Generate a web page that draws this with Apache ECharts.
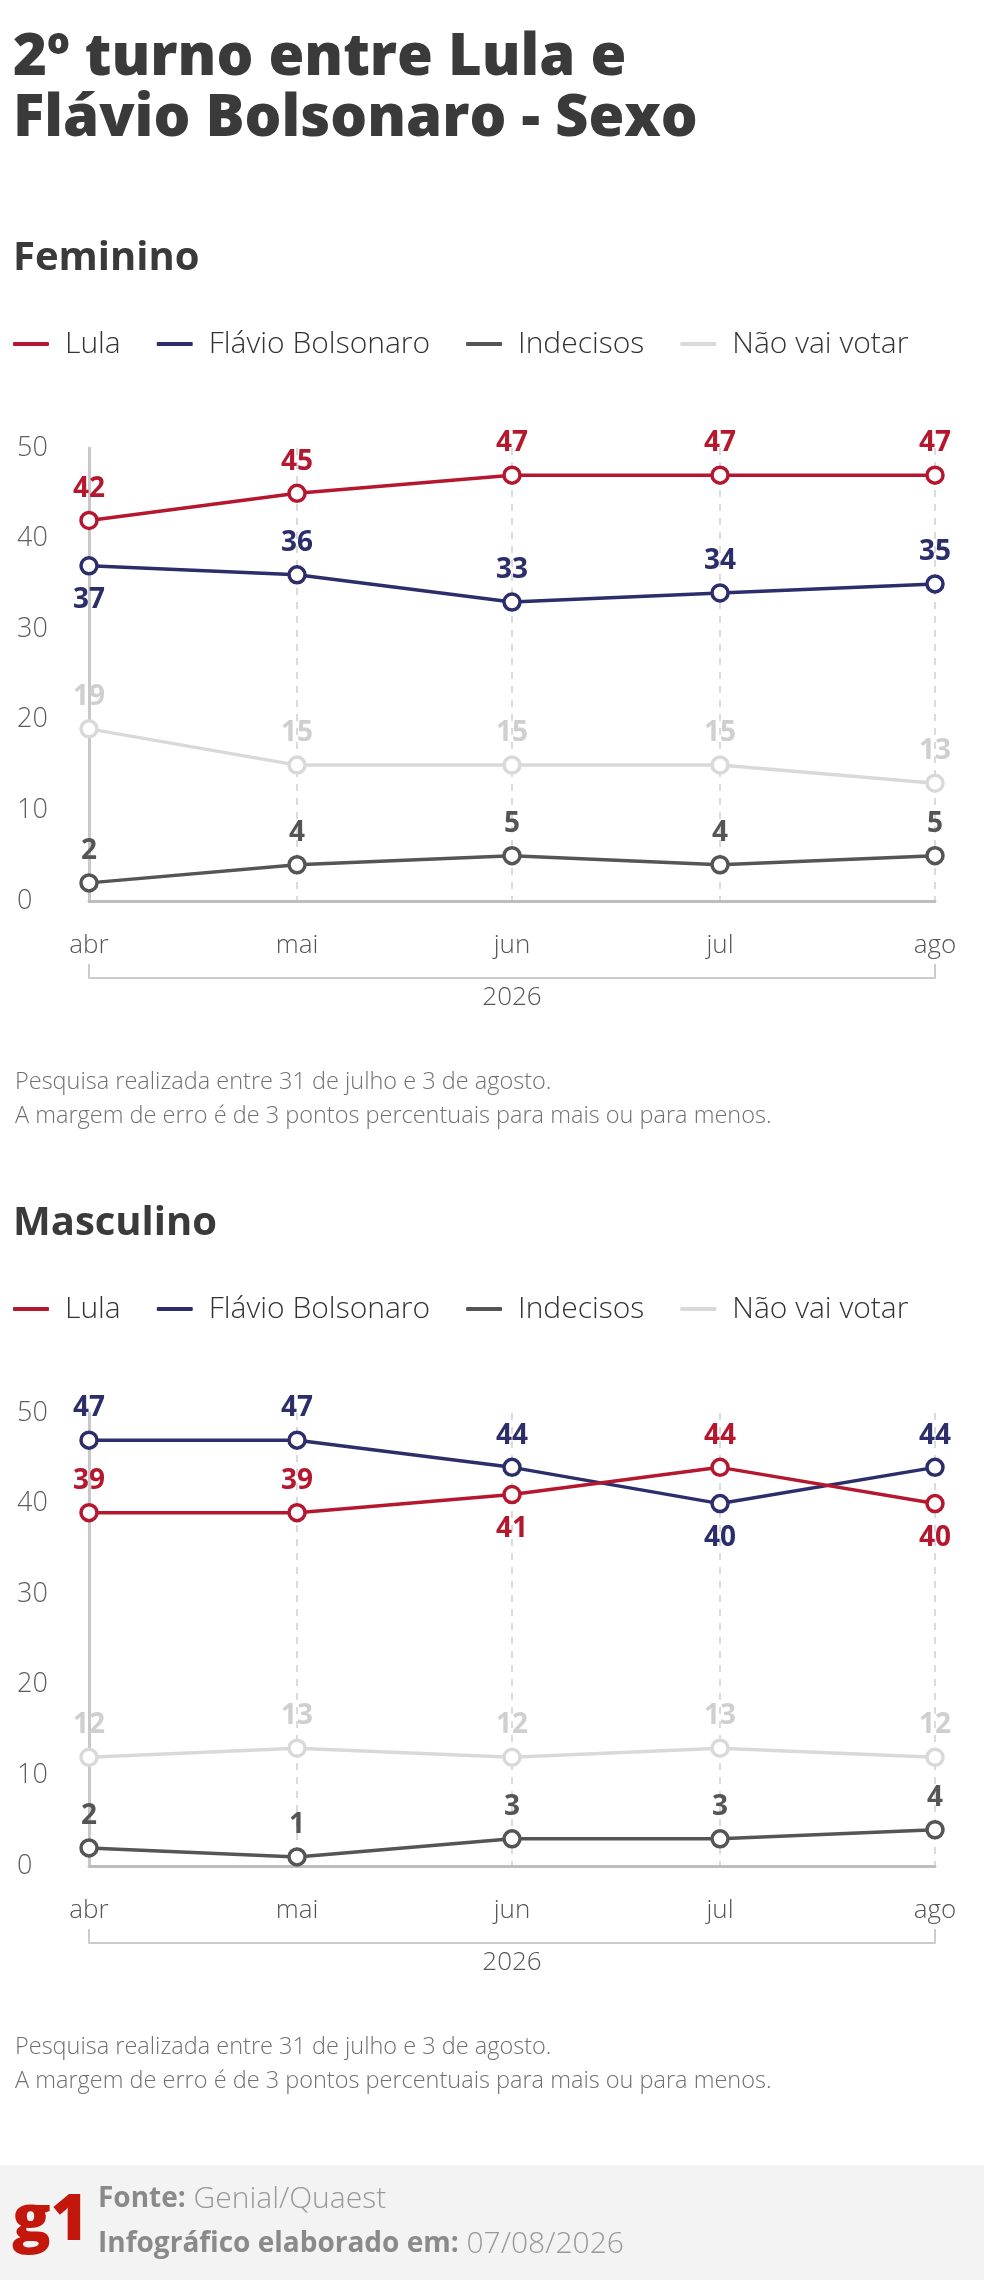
<!DOCTYPE html>
<html>
<head>
<meta charset="utf-8">
<script src="https://cdn.jsdelivr.net/npm/echarts@6/dist/echarts.min.js"></script>
<style>
html,body{margin:0;padding:0;background:#fff;}
#chart{width:984px;height:2280px;}
</style>
</head>
<body>
<div id="chart"></div>
<script>
// ---- data ----
const months = ['abr', 'mai', 'jun', 'jul', 'ago'];
const dates = ['2026-04-01', '2026-05-01', '2026-06-01', '2026-07-01', '2026-08-01'];
const seriesNames = ['Lula', 'Flávio Bolsonaro', 'Indecisos', 'Não vai votar'];

const femLula = [42, 45, 47, 47, 47];
const femFlavio = [37, 36, 33, 34, 35];
const femIndecisos = [2, 4, 5, 4, 5];
const femNaoVota = [19, 15, 15, 15, 13];

const mascLula = [39, 39, 41, 44, 40];
const mascFlavio = [47, 47, 44, 40, 44];
const mascIndecisos = [2, 1, 3, 3, 4];
const mascNaoVota = [12, 13, 12, 13, 12];

const yTicks = [0, 10, 20, 30, 40, 50];

// ---- styles ----
const FONT = '"Open Sans", "Noto Sans", sans-serif';
const colors = ['#b5172f', '#2c2d6b', '#555555', '#d9d9d9'];
const labelColors = ['#b5172f', '#2c2d6b', '#555555', '#cfcfcf'];

// day offsets from the first survey month (time positions)
const DAY = 86400000;
const t0 = Date.UTC.apply(null, dates[0].split('-').map((n, i) => i === 1 ? n - 1 : +n));
const xs = dates.map(d => {
  const p = d.split('-').map(Number);
  return Math.round((Date.UTC(p[0], p[1] - 1, p[2]) - t0) / DAY);
});
const monthOf = v => {
  const idx = xs.indexOf(Math.round(v));
  return idx >= 0 ? months[idx] : '';
};

const gridTops = [448, 1413];
const gridH = 453;

function makeSeries(gi, vals, pairVals, k) {
  return {
    name: seriesNames[k],
    type: 'line',
    xAxisIndex: gi * 2,
    yAxisIndex: gi,
    symbol: 'circle',
    symbolSize: 16,
    showAllSymbol: true,
    z: 10 - k,
    lineStyle: { color: colors[k], width: 3.5 },
    itemStyle: { color: '#fff', borderColor: colors[k], borderWidth: 3.5 },
    emphasis: { disabled: true },
    label: {
      show: true,
      position: 'top',
      distance: 8,
      color: labelColors[k],
      fontFamily: FONT,
      fontWeight: 'bold',
      fontSize: 28
    },
    data: vals.map((v, i) => {
      const item = { value: [xs[i], v] };
      if (pairVals && Math.abs(v - pairVals[i]) <= 5 && v < pairVals[i]) {
        item.label = { position: 'bottom', distance: 11 };
      }
      return item;
    })
  };
}

const grids = gridTops.map(t => ({ left: 89, right: 49, top: t, height: gridH, outerBoundsMode: 'none' }));

const xAxes = [];
const yAxes = [];
gridTops.forEach((t, gi) => {
  xAxes.push({
    gridIndex: gi,
    type: 'value',
    min: xs[0],
    max: xs[xs.length - 1],
    axisLine: { show: true, onZero: false, lineStyle: { color: '#bdbdbd', width: 3 } },
    axisTick: { show: false, customValues: xs },
    axisLabel: {
      customValues: xs,
      formatter: v => monthOf(v),
      margin: 32,
      fontSize: 26,
      fontFamily: FONT,
      fontWeight: 300,
      color: '#555',
      hideOverlap: false,
      showMinLabel: true,
      showMaxLabel: true
    },
    splitLine: { show: true, lineStyle: { type: [7, 7], color: '#cfcfcf', width: 1.5 } }
  });
  xAxes.push({
    gridIndex: gi,
    type: 'value',
    position: 'bottom',
    offset: 77,
    min: xs[0],
    max: xs[xs.length - 1],
    axisLine: { show: true, onZero: false, lineStyle: { color: '#cccccc', width: 2 } },
    axisTick: { show: true, inside: true, length: 14, customValues: [xs[0], xs[xs.length - 1]], lineStyle: { color: '#cccccc', width: 2 } },
    axisLabel: { show: false },
    splitLine: { show: false },
    name: '2026',
    nameLocation: 'middle',
    nameGap: 7,
    nameTextStyle: { fontSize: 26, fontFamily: FONT, fontWeight: 300, color: '#555' }
  });
  yAxes.push({
    gridIndex: gi,
    type: 'value',
    min: yTicks[0],
    max: yTicks[yTicks.length - 1],
    interval: 10,
    axisLine: { show: true, lineStyle: { color: '#c8c8c8', width: 3 } },
    axisTick: { show: false },
    splitLine: { show: false },
    axisLabel: { align: 'left', margin: 72, fontSize: 27, fontFamily: FONT, fontWeight: 300, color: '#5e5e5e' }
  });
});

const series = [
  makeSeries(0, femLula, femFlavio, 0),
  makeSeries(0, femFlavio, femLula, 1),
  makeSeries(0, femIndecisos, null, 2),
  makeSeries(0, femNaoVota, null, 3),
  makeSeries(1, mascLula, mascFlavio, 0),
  makeSeries(1, mascFlavio, mascLula, 1),
  makeSeries(1, mascIndecisos, null, 2),
  makeSeries(1, mascNaoVota, null, 3)
];

const legendCfg = top => ({
  top: top,
  left: 13,
  padding: 0,
  icon: 'roundRect',
  itemWidth: 36,
  itemHeight: 4,
  itemGap: 36,
  selectedMode: false,
  textStyle: { fontSize: 30, fontFamily: FONT, fontWeight: 300, color: '#333', padding: [0, 0, 0, 11] },
  data: seriesNames.map((n, k) => ({ name: n, itemStyle: { color: colors[k], borderWidth: 0 } }))
});

const noteText = 'Pesquisa realizada entre 31 de julho e 3 de agosto.\nA margem de erro é de 3 pontos percentuais para mais ou para menos.';
const noteStyle = { fontSize: 23.5, fontFamily: FONT, fontWeight: 300, color: '#707070', lineHeight: 34 };
const subTitleStyle = { fontSize: 40, fontFamily: FONT, fontWeight: 'bold', color: '#3a3a3a', lineHeight: 46 };

const footRich = {
  b: { fontSize: 28, fontFamily: FONT, fontWeight: 'bold', fill: '#8a8a8a' },
  n: { fontSize: 30, fontFamily: FONT, fontWeight: 300, fill: '#999' }
};

const option = {
  backgroundColor: '#fff',
  animation: false,
  title: [
    { text: '2º turno entre Lula e\nFlávio Bolsonaro - Sexo', left: 13, top: 28, padding: 0,
      textStyle: { fontSize: 58, fontFamily: FONT, fontWeight: 800, color: '#3a3a3a', lineHeight: 61 } },
    { text: 'Feminino', left: 13, top: 236, padding: 0, textStyle: subTitleStyle },
    { text: noteText, left: 15, top: 1065, padding: 0, textStyle: noteStyle },
    { text: 'Masculino', left: 13, top: 1201, padding: 0, textStyle: subTitleStyle },
    { text: noteText, left: 15, top: 2030, padding: 0, textStyle: noteStyle }
  ],
  legend: [legendCfg(1294 - 965), legendCfg(1294)],
  grid: grids,
  xAxis: xAxes,
  yAxis: yAxes,
  series: series,
  graphic: [
    { type: 'rect', left: 0, top: 2165, shape: { width: 984, height: 115 }, style: { fill: '#f3f3f3' }, silent: true },
    { type: 'text', x: 12, y: 2222, silent: true,
      style: { text: 'g1', fill: '#c4170c', font: '800 64px "Open Sans", sans-serif', verticalAlign: 'middle' } },
    { type: 'text', x: 98, y: 2199, silent: true,
      style: { text: '{b|Fonte:}{n| Genial/Quaest}', rich: footRich, verticalAlign: 'middle' } },
    { type: 'text', x: 98, y: 2244, silent: true,
      style: { text: '{b|Infográfico elaborado em:}{n| 07/08/2026}', rich: footRich, verticalAlign: 'middle' } }
  ]
};

const chart = echarts.init(document.getElementById('chart'), null, { renderer: 'canvas', width: 984, height: 2280 });
chart.setOption(option);
</script>
</body>
</html>
